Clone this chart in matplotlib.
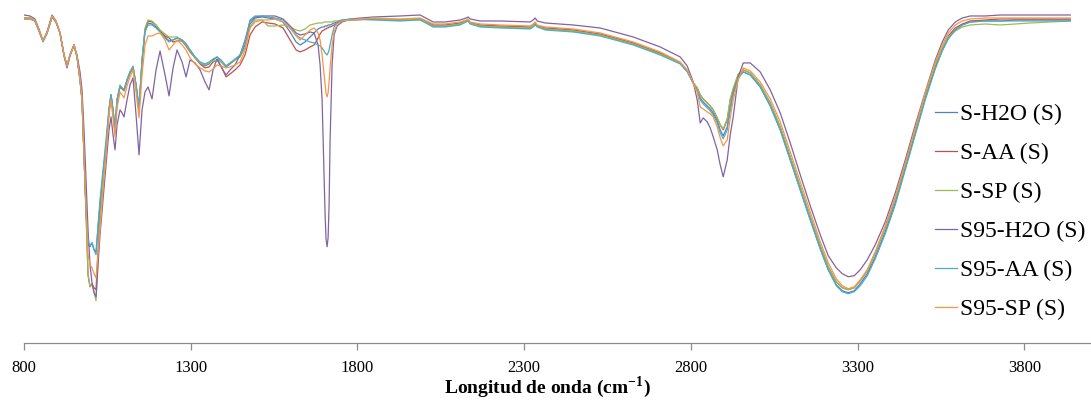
import matplotlib
matplotlib.use("Agg")
import matplotlib.pyplot as plt

plt.rcParams['font.family'] = ['Liberation Serif', 'DejaVu Serif']
plt.rcParams['mathtext.fontset'] = 'custom'
plt.rcParams['mathtext.rm'] = 'Liberation Serif'
plt.rcParams['mathtext.bf'] = 'Liberation Serif:bold'

# Wavenumber (cm-1)
wavenumber = [
    800, 818, 833, 845, 857, 869, 884, 896, 908, 920, 929, 938, 950, 959, 968, 974, 980, 986, 992,
    998, 1004, 1010, 1016, 1022, 1028, 1037, 1046, 1055, 1061, 1067, 1073, 1079, 1088, 1094, 1100, 1109, 1118, 1127, 1136, 1145, 1154, 1163, 1172,
    1184, 1196, 1208, 1223, 1235, 1247, 1259, 1274, 1286, 1298, 1313, 1328, 1343, 1355, 1367, 1379, 1391, 1406, 1418, 1433, 1448, 1463, 1478, 1493, 1514,
    1532, 1553, 1577, 1598, 1616, 1628, 1643, 1658, 1670, 1682, 1688, 1694, 1700, 1703, 1706, 1709, 1712, 1715, 1718, 1724, 1730, 1739, 1754, 1778,
    1847, 1928, 1988, 2027, 2063, 2108, 2126, 2132, 2138, 2168, 2228, 2318, 2327, 2333, 2339, 2363, 2447, 2528, 2627, 2708, 2768, 2789, 2807,
    2819, 2828, 2837, 2849, 2858, 2867, 2879, 2888, 2897, 2909, 2918, 2927, 2942, 2957, 2978, 3008,
    3038, 3068, 3098, 3128, 3158, 3188, 3212, 3236, 3254, 3272, 3290, 3308, 3329, 3353, 3383, 3413, 3443, 3473, 3503, 3533, 3554, 3572, 3593, 3614, 3638, 3683, 3728, 3773, 3818, 3878, 3938,
]

# Transmittance (%)
s_h2o = [
    97.6, 97.6, 96.7, 93.7, 90.7, 93.1, 97.9, 96.4, 93.1, 86.5, 83.2, 86.5, 89.5, 85.9, 79.0, 73.0, 56.5, 40.0, 29.5,
    28.9, 30.1, 28.0, 27.4, 34.6, 41.5, 50.5, 59.5, 70.0, 74.5, 70.0, 64.6, 73.0, 77.2, 76.6, 76.0, 79.0, 81.4, 82.9, 77.5, 70.6, 85.0, 94.0, 96.1,
    95.8, 94.9, 93.7, 91.9, 90.7, 91.0, 91.6, 91.0, 89.8, 88.0, 85.9, 84.1, 83.2, 83.8, 85.0, 85.9, 84.4, 82.9, 83.8, 85.0, 86.2, 89.5, 95.8, 97.6, 97.9,
    97.6, 97.3, 96.4, 93.4, 90.4, 89.5, 90.4, 91.9, 93.1, 94.3, 94.6, 94.9, 94.9, 95.2, 95.2, 95.2, 95.5, 95.5, 95.5, 95.8, 96.1, 96.4, 96.7, 97.0,
    97.3, 97.0, 97.3, 95.2, 95.2, 95.8, 96.7, 97.0, 96.1, 95.2, 94.9, 94.6, 95.5, 95.8, 95.2, 94.3, 93.7, 92.5, 89.8, 86.8, 84.1, 81.7, 78.1,
    76.0, 73.6, 72.4, 71.2, 70.3, 69.1, 66.7, 64.0, 62.2, 64.9, 70.6, 75.1, 79.6, 81.4, 80.5, 76.9,
    71.2, 64.0, 55.0, 46.0, 37.0, 28.3, 22.0, 17.5, 15.7, 15.1, 15.7, 17.8, 20.8, 25.9, 33.4, 42.1, 52.6, 63.1, 73.6, 82.9, 88.0, 91.6, 94.0, 95.5, 96.4, 96.7, 96.7, 97.0, 97.0, 97.0, 97.0,
]
s_aa = [
    97.3, 97.3, 96.7, 93.7, 90.7, 93.1, 97.9, 96.4, 93.1, 86.5, 83.2, 86.5, 89.5, 85.9, 79.0, 73.0, 56.5, 39.4, 20.5,
    16.9, 17.8, 16.6, 16.0, 28.0, 38.5, 49.6, 58.6, 69.4, 74.5, 69.4, 63.4, 72.4, 76.9, 76.3, 75.7, 78.7, 81.1, 82.6, 77.2, 70.0, 84.4, 94.0, 96.7,
    96.4, 95.5, 93.7, 92.2, 91.6, 90.4, 90.7, 90.7, 89.2, 87.4, 85.6, 83.8, 82.6, 82.9, 84.4, 85.0, 83.2, 79.9, 80.8, 82.0, 83.5, 86.5, 92.5, 94.9, 96.4,
    96.1, 95.8, 94.6, 91.0, 88.0, 87.4, 88.0, 88.9, 89.5, 91.6, 92.8, 93.7, 94.0, 94.3, 94.3, 94.6, 94.6, 94.9, 94.9, 95.2, 95.5, 96.1, 96.7, 97.0,
    97.3, 97.0, 97.3, 95.5, 95.5, 96.1, 96.7, 97.0, 96.1, 95.5, 95.2, 94.9, 95.5, 96.1, 95.2, 94.6, 94.0, 92.8, 90.1, 87.1, 84.1, 81.7, 78.1,
    76.6, 74.5, 73.3, 72.1, 71.2, 70.0, 67.6, 65.5, 64.0, 67.0, 73.0, 76.0, 80.5, 82.0, 81.1, 77.5,
    72.1, 64.9, 55.9, 46.9, 37.9, 29.2, 22.9, 18.4, 16.6, 16.0, 16.6, 18.7, 21.7, 27.1, 34.6, 43.3, 53.5, 64.0, 74.5, 83.5, 88.6, 92.2, 94.6, 95.8, 96.7, 97.0, 97.3, 97.3, 97.3, 97.3, 97.3,
]
s_sp = [
    97.3, 97.3, 96.7, 93.7, 90.7, 93.1, 97.9, 96.4, 93.1, 86.5, 83.2, 86.5, 89.5, 85.9, 79.0, 73.0, 56.5, 39.4, 20.5,
    16.9, 17.5, 15.4, 12.7, 25.0, 37.0, 49.0, 58.6, 69.4, 74.5, 69.4, 63.4, 73.0, 77.5, 76.6, 76.0, 79.0, 81.4, 83.2, 77.5, 70.0, 85.0, 94.6, 97.0,
    96.7, 95.5, 94.0, 92.8, 91.9, 91.9, 91.9, 91.0, 89.5, 87.7, 85.6, 84.1, 83.5, 84.1, 84.7, 85.0, 84.4, 83.2, 84.1, 85.0, 85.9, 88.6, 94.9, 97.0, 97.0,
    95.2, 95.2, 95.5, 94.9, 94.0, 93.7, 94.3, 95.5, 95.8, 96.1, 96.1, 96.1, 96.4, 96.4, 96.4, 96.4, 96.4, 96.4, 96.4, 96.4, 96.7, 96.7, 97.0, 97.0,
    97.3, 97.0, 97.3, 95.2, 95.2, 95.8, 96.7, 97.0, 96.1, 95.2, 94.9, 94.6, 95.5, 96.1, 95.2, 94.3, 93.7, 92.5, 89.8, 86.8, 84.1, 81.7, 78.1,
    76.6, 74.5, 73.3, 72.1, 71.2, 70.0, 67.6, 65.5, 64.3, 67.3, 73.3, 76.6, 80.8, 82.0, 81.1, 77.5,
    72.1, 64.9, 55.9, 46.9, 37.9, 29.2, 22.9, 18.4, 16.6, 16.0, 16.6, 18.7, 21.7, 27.1, 34.6, 43.3, 53.5, 64.0, 74.5, 83.5, 88.6, 91.9, 93.7, 94.9, 95.5, 95.8, 95.5, 95.8, 96.1, 96.4, 96.7,
]
s95_h2o = [
    98.5, 98.2, 97.3, 94.3, 90.7, 93.4, 98.5, 96.7, 93.1, 86.2, 82.6, 86.2, 89.5, 86.5, 81.4, 76.0, 64.0, 49.0, 34.0,
    23.5, 18.1, 15.1, 13.9, 23.5, 32.5, 43.0, 53.5, 64.0, 67.9, 62.5, 58.0, 65.5, 70.0, 69.1, 67.9, 73.0, 77.5, 79.6, 68.5, 56.5, 70.0, 75.4, 76.9,
    73.3, 82.0, 87.7, 80.5, 74.2, 82.6, 88.0, 84.4, 79.9, 85.0, 84.1, 82.0, 78.4, 76.0, 82.0, 85.3, 82.9, 80.5, 82.0, 83.5, 86.5, 91.0, 96.7, 97.9, 98.2,
    98.2, 98.2, 97.3, 95.2, 93.1, 92.5, 92.8, 93.4, 93.1, 89.5, 83.5, 73.0, 50.5, 38.5, 31.0, 28.9, 31.6, 41.5, 61.0, 83.5, 92.5, 95.2, 96.4, 97.3,
    97.9, 98.2, 98.5, 96.4, 96.4, 97.0, 97.6, 97.9, 97.3, 96.7, 96.7, 96.4, 97.0, 97.6, 96.7, 96.1, 95.5, 94.6, 91.9, 88.9, 85.9, 83.2, 78.4,
    73.0, 66.1, 67.6, 66.4, 64.6, 61.9, 58.0, 53.5, 49.9, 55.0, 62.5, 67.9, 79.9, 84.1, 84.1, 81.4,
    76.0, 69.1, 60.1, 50.5, 41.2, 32.5, 26.2, 22.6, 20.8, 19.9, 20.2, 22.0, 25.0, 29.5, 36.4, 45.1, 55.0, 65.5, 75.4, 85.0, 90.4, 94.0, 96.4, 97.6, 98.2, 98.2, 98.5, 98.5, 98.5, 98.5, 98.5,
]
s95_aa = [
    97.6, 97.6, 96.7, 93.7, 90.4, 92.8, 97.9, 96.4, 93.1, 86.5, 83.2, 86.5, 89.5, 85.9, 79.0, 73.0, 56.5, 40.0, 31.0,
    29.2, 30.1, 28.0, 26.5, 35.5, 43.0, 52.0, 61.0, 70.6, 74.5, 70.0, 64.6, 73.0, 77.2, 76.6, 76.0, 79.0, 81.4, 82.9, 77.5, 70.9, 84.4, 93.4, 95.5,
    95.5, 94.6, 93.4, 91.6, 90.4, 91.0, 91.6, 91.0, 89.8, 88.0, 85.9, 84.4, 83.8, 84.4, 85.3, 85.9, 85.0, 83.2, 84.1, 85.3, 86.5, 90.4, 97.0, 98.2, 98.2,
    97.9, 97.6, 97.0, 94.6, 92.5, 91.6, 91.0, 90.4, 90.1, 89.5, 89.2, 88.6, 87.7, 87.1, 86.8, 86.5, 87.1, 88.0, 89.5, 92.5, 94.9, 96.4, 97.0, 97.3,
    97.0, 96.7, 97.0, 94.9, 94.9, 95.5, 96.4, 96.7, 95.8, 94.9, 94.6, 94.3, 94.9, 95.5, 94.9, 94.0, 93.4, 92.2, 89.5, 86.5, 83.8, 81.4, 78.1,
    75.7, 73.0, 71.8, 70.6, 69.7, 68.5, 66.1, 63.1, 61.3, 64.0, 70.0, 74.5, 79.6, 81.4, 80.5, 76.9,
    71.2, 64.0, 55.0, 46.0, 37.0, 28.3, 22.0, 17.2, 15.4, 14.8, 15.4, 17.2, 20.2, 25.3, 32.8, 41.5, 52.0, 62.5, 73.0, 82.3, 87.7, 91.3, 94.0, 95.5, 96.4, 96.7, 96.7, 96.7, 96.7, 96.7, 96.7,
]
s95_sp = [
    97.6, 97.6, 97.0, 94.0, 90.7, 93.1, 98.2, 96.7, 93.1, 86.5, 83.2, 86.5, 89.5, 86.2, 79.3, 73.3, 57.1, 40.0, 26.5,
    23.5, 22.6, 20.8, 19.6, 26.5, 34.0, 46.0, 56.5, 68.5, 73.0, 67.6, 61.9, 70.6, 75.4, 74.5, 73.6, 77.2, 79.9, 82.0, 75.4, 67.6, 80.5, 89.5, 92.2,
    92.2, 92.8, 93.1, 91.0, 88.0, 89.5, 91.0, 89.5, 88.0, 85.6, 83.8, 82.6, 81.7, 81.4, 82.3, 83.5, 83.2, 82.6, 82.9, 83.5, 84.4, 88.0, 94.6, 96.4, 97.0,
    97.0, 97.3, 96.4, 94.6, 92.2, 91.0, 92.5, 94.0, 94.6, 93.1, 91.0, 86.5, 80.5, 77.2, 74.8, 73.9, 75.1, 78.4, 82.6, 89.5, 93.4, 95.8, 96.7, 97.0,
    97.6, 97.3, 97.6, 95.8, 95.8, 96.4, 97.0, 97.3, 96.4, 95.8, 95.5, 95.2, 95.8, 96.4, 95.5, 94.9, 94.3, 93.1, 90.4, 87.4, 84.4, 82.0, 78.1,
    75.4, 70.9, 70.3, 69.4, 68.8, 67.9, 64.9, 61.6, 59.2, 61.0, 67.6, 73.0, 79.0, 82.6, 81.7, 78.4,
    73.3, 66.4, 57.4, 48.4, 39.4, 30.4, 24.1, 19.3, 17.2, 16.3, 16.9, 19.0, 22.0, 27.4, 35.2, 43.9, 54.1, 64.6, 75.1, 84.4, 89.5, 93.1, 95.5, 96.7, 97.3, 97.6, 97.6, 97.6, 97.6, 97.6, 97.6,
]

series_names = ['S-H2O (S)', 'S-AA (S)', 'S-SP (S)', 'S95-H2O (S)', 'S95-AA (S)', 'S95-SP (S)']
series_values = [s_h2o, s_aa, s_sp, s95_h2o, s95_aa, s95_sp]
colors = ['#4F81BD', '#C0504D', '#9BBB59', '#8064A2', '#4BACC6', '#F79646']
x_ticks = [800, 1300, 1800, 2300, 2800, 3300, 3800]

for v in series_values:
    assert len(v) == len(wavenumber), (len(v), len(wavenumber))

fig = plt.figure(figsize=(10.91, 4.03), dpi=100)
ax = fig.add_axes([24 / 1091, 60 / 403, 1067 / 1091, 343 / 403])

for name, vals, c in zip(series_names, series_values, colors):
    ax.plot(wavenumber, vals, color=c, lw=0.9, label=name)

ax.set_xlim(800, 4000)
ax.set_ylim(0, 103)
ax.set_xticks(x_ticks)
ax.set_xticklabels([str(t) for t in x_ticks], fontsize=12)
ax.set_yticks([])
for s in ['top', 'right', 'left']:
    ax.spines[s].set_visible(False)
ax.spines['bottom'].set_color('#8c8c8c')
ax.spines['bottom'].set_linewidth(0.9)
ax.tick_params(axis='x', direction='out', length=5, width=0.9, color='#8c8c8c', pad=7)

ax.set_xlabel(r'Longitud de onda (cm$^{\mathbf{-1}}$)', fontsize=14, fontweight='bold')
ax.xaxis.set_label_coords((547 - 24) / 1067, -0.09)

leg = ax.legend(loc='upper left', bbox_to_anchor=(935 / 1091, 1 - 104 / 403),
                bbox_transform=fig.transFigure, frameon=False, fontsize=17,
                handlelength=0.95, handletextpad=0.12, labelspacing=0.74,
                borderpad=0, borderaxespad=0)

fig.savefig('out.png', dpi=100)
